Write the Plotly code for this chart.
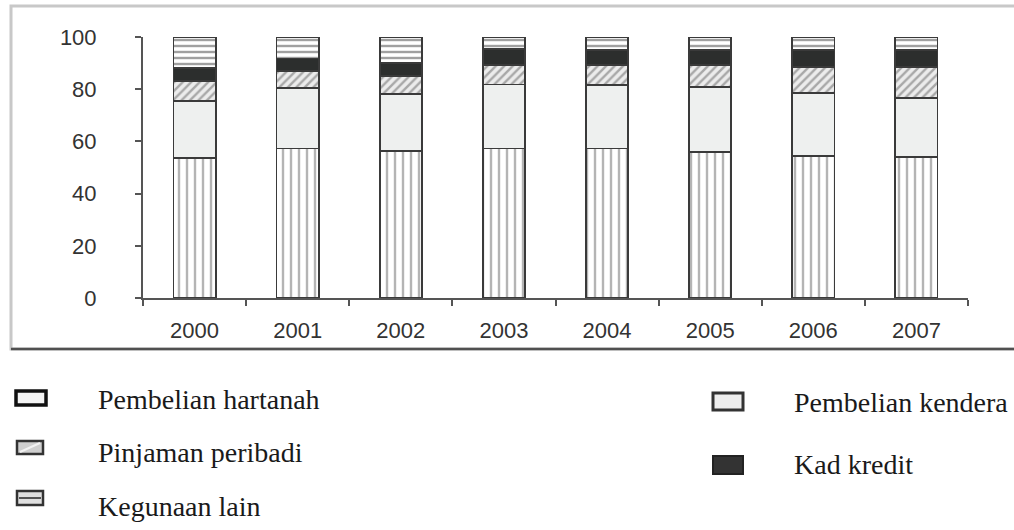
import plotly.graph_objects as go

years = ["2000", "2001", "2002", "2003", "2004", "2005", "2006", "2007"]
pembelian_hartanah = [53.5, 57.3, 56.4, 57.3, 57.3, 56.0, 54.4, 54.1]
pembelian_kenderaan = [22.0, 23.3, 21.8, 24.5, 24.3, 24.7, 24.0, 22.4]
pinjaman_peribadi = [7.7, 6.5, 6.9, 7.5, 7.7, 8.6, 10.2, 11.9]
kad_kredit = [4.8, 4.7, 4.8, 6.0, 5.7, 5.7, 6.4, 6.6]
kegunaan_lain = [12.0, 8.2, 10.1, 4.7, 5.0, 5.0, 5.0, 5.0]
y_ticks = [0, 20, 40, 60, 80, 100]

W, H = 1014, 530
ML, MR, MT, MB = 143, 46, 37, 232
PW, PH = W - ML - MR, H - MT - MB

def px(x):
    return (x - ML) / PW

def py(y):
    return (H - MB - y) / PH

edge = dict(color="#3a3a3a", width=1.8)
fig = go.Figure()
series = [
    (pembelian_hartanah, "Pembelian hartanah",
     dict(color="#ffffff", line=edge,
          pattern=dict(shape="|", fgcolor="#b4b4b4", bgcolor="#ffffff", size=8, solidity=0.3, fillmode="replace"))),
    (pembelian_kenderaan, "Pembelian kenderaan",
     dict(color="#eef0ef", line=edge)),
    (pinjaman_peribadi, "Pinjaman peribadi",
     dict(color="#e6e6e6", line=edge,
          pattern=dict(shape="/", fgcolor="#a8a8a8", bgcolor="#ececec", size=6, solidity=0.4, fillmode="replace"))),
    (kad_kredit, "Kad kredit",
     dict(color="#2c2e2d", line=edge)),
    (kegunaan_lain, "Kegunaan lain",
     dict(color="#ffffff", line=edge,
          pattern=dict(shape="-", fgcolor="#a0a0a0", bgcolor="#ffffff", size=6, solidity=0.4, fillmode="replace"))),
]
for vals, name, marker in series:
    fig.add_trace(go.Bar(x=years, y=vals, name=name, marker=marker, width=0.41, showlegend=False))

# chart frame
fig.add_shape(type="rect", xref="paper", yref="paper", x0=px(11), x1=px(1040), y0=py(349), y1=py(6),
              line=dict(color="#c8c8c8", width=3), fillcolor="rgba(0,0,0,0)", layer="below")
fig.add_shape(type="line", xref="paper", yref="paper", x0=px(11), x1=px(1040), y0=py(349), y1=py(349),
              line=dict(color="#505050", width=2.5))

# legend (drawn manually to match layout); right column label is cropped in the source image
serif = dict(family="Liberation Serif, Times New Roman, serif", size=28, color="#1a1a1a")
legend_items = [
    ("Pembelian hartanah", 16, 46, 391, 405, 96, 399, "#f4f4f4", "#111111", 3.5, None),
    ("Pinjaman peribadi", 17, 43, 441, 454, 96, 452, "#cfcfcf", "#333333", 2.5, "diag"),
    ("Kegunaan lain", 17, 43, 491, 505, 96, 506, "#e0e0e0", "#333333", 2.5, "hor"),
    ("Pembelian kendera", 713, 743, 393, 410, 792, 402, "#eeeeee", "#333333", 3, None),
    ("Kad kredit", 713, 743, 456, 474, 792, 464, "#333333", "#222222", 2, None),
]
for text, x0, x1, y0, y1, tx, ty, fill, lc, lw, deco in legend_items:
    fig.add_shape(type="rect", xref="paper", yref="paper", x0=px(x0), x1=px(x1), y0=py(y1), y1=py(y0),
                  line=dict(color=lc, width=lw), fillcolor=fill)
    if deco == "diag":
        fig.add_shape(type="line", xref="paper", yref="paper", x0=px(x0 + 3), x1=px(x1 - 3), y0=py(y1 - 2), y1=py(y0 + 2),
                      line=dict(color="#f2f2f2", width=2))
    if deco == "hor":
        mid = (y0 + y1) / 2
        fig.add_shape(type="line", xref="paper", yref="paper", x0=px(x0 + 2), x1=px(x1 - 2), y0=py(mid), y1=py(mid),
                      line=dict(color="#555555", width=2))
    fig.add_annotation(text=text, xref="paper", yref="paper", x=px(tx), y=py(ty), xanchor="left", yanchor="middle",
                       showarrow=False, font=serif)

tickfont = dict(family="Liberation Sans, Arial, sans-serif", size=22, color="#333333")
fig.update_layout(
    width=W, height=H,
    margin=dict(l=ML, r=MR, t=MT, b=MB),
    paper_bgcolor="#ffffff", plot_bgcolor="#ffffff",
    barmode="stack", bargap=0.59,
    xaxis=dict(type="category", range=[-0.5, 7.5], showline=True, linecolor="#555555", linewidth=2,
               ticks="outside", tickson="boundaries", ticklen=6, tickcolor="#555555", tickwidth=2,
               showgrid=False, tickfont=tickfont, ticklabelstandoff=12, zeroline=False),
    yaxis=dict(range=[0, 100], tickvals=y_ticks, showline=True, linecolor="#555555", linewidth=2,
               ticks="outside", ticklen=6, tickcolor="#555555", tickwidth=2,
               showgrid=False, zeroline=False, tickfont=tickfont, ticklabelstandoff=34),
)

fig.write_html("out.html", config={"displayModeBar": False},
               post_script="document.body.style.margin='0';document.body.style.overflow='hidden';")
